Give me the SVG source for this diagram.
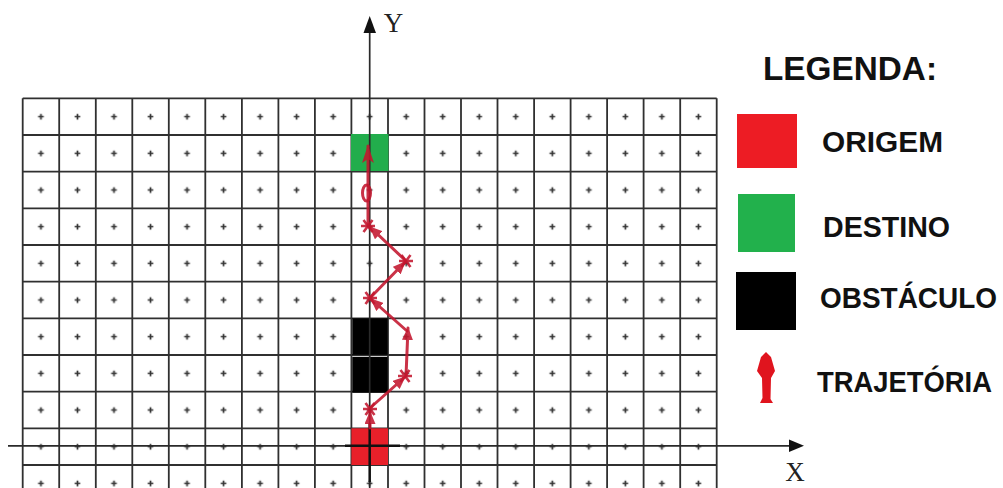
<svg xmlns="http://www.w3.org/2000/svg" width="1003" height="488" viewBox="0 0 1003 488">
<style>
.grid{stroke:#303030;stroke-width:1.8;fill:none}
.axis{stroke:#2a2a2a;stroke-width:1.7;fill:none}
.lbl{font-family:"Liberation Serif","Times New Roman",serif;font-size:27px;fill:#222}
.leg{font-family:"Liberation Sans",Arial,sans-serif;font-weight:bold;fill:#111}
.traj{stroke:#c3162e;stroke-width:3;fill:none;stroke-linecap:round;opacity:0.88}
.star{stroke:#c3162e;stroke-width:2.6;fill:none;opacity:0.88}
</style>
<defs>
<pattern id="plus" x="22.7" y="98.3" width="36.526" height="36.67" patternUnits="userSpaceOnUse">
<path d="M15.4 18.33h5.7M18.26 15.5v5.7" stroke="#333" stroke-width="1.7"/>
</pattern>
<marker id="ah" viewBox="0 0 13 11" refX="12" refY="5.5" markerWidth="13" markerHeight="11" markerUnits="userSpaceOnUse" orient="auto">
<path d="M0 0L13 5.5L0 11z" fill="#c3162e"/>
</marker>
<marker id="ahBig" viewBox="0 0 18 12" refX="17" refY="6" markerWidth="18" markerHeight="12" markerUnits="userSpaceOnUse" orient="auto">
<path d="M0 0L18 6L0 12L4 6z" fill="#c3162e"/>
</marker>
<g id="asterisk">
<path d="M-7 0H7M-4.5 -6L4.5 6M-4.5 6L4.5 -6"/>
</g>
</defs>
<rect width="1003" height="488" fill="#fff"/>

<g id="grid">
<rect x="22.7" y="98.3" width="694" height="390" fill="url(#plus)"/>
<path class="grid" d="M22.7 98.3V488M59.2 98.3V488M95.8 98.3V488M132.3 98.3V488M168.8 98.3V488M205.3 98.3V488M241.9 98.3V488M278.4 98.3V488M314.9 98.3V488M351.4 98.3V488M388 98.3V488M424.5 98.3V488M461 98.3V488M497.5 98.3V488M534.1 98.3V488M570.6 98.3V488M607.1 98.3V488M643.6 98.3V488M680.2 98.3V488M716.7 98.3V488M22.7 98.3H716.7M22.7 135H716.7M22.7 171.6H716.7M22.7 208.3H716.7M22.7 245H716.7M22.7 281.6H716.7M22.7 318.3H716.7M22.7 355H716.7M22.7 391.7H716.7M22.7 428.3H716.7M22.7 465H716.7"/>
</g>

<g id="origem">
<rect x="351.4" y="428.3" width="36.6" height="36.7" fill="#e8202a"/>
</g>
<g id="destino">
<rect x="351" y="134" width="37.5" height="37" fill="#22ad4c"/>
</g>
<g id="obstaculo">
<rect x="352.3" y="318.3" width="35.4" height="36.5" fill="#000"/>
<rect x="352.3" y="356.8" width="35.4" height="36" fill="#000"/>
</g>

<g id="axes">
<path class="axis" d="M8 445.8H792"/>
<path d="M789 439.5L804 445.8L789 452z" fill="#111"/>
<path class="axis" d="M369.7 488V30"/>
<path d="M363.5 33L369.7 16L376 33z" fill="#111"/>
<path d="M345 445.8H400M369.7 423V482" stroke="#111" stroke-width="2.4"/>
<text class="lbl" x="393.5" y="32" text-anchor="middle">Y</text>
<text class="lbl" x="795" y="481" text-anchor="middle" font-size="26">X</text>
</g>

<g id="trajetoria">
<line class="traj" x1="370" y1="428" x2="370" y2="412" marker-end="url(#ah)"/>
<line class="traj" x1="370" y1="408" x2="405" y2="377" marker-end="url(#ah)"/>
<line class="traj" x1="406" y1="376" x2="408" y2="328" marker-end="url(#ah)"/>
<line class="traj" x1="407" y1="331" x2="371" y2="299" marker-end="url(#ah)"/>
<line class="traj" x1="370" y1="298" x2="405" y2="262" marker-end="url(#ah)"/>
<line class="traj" x1="406" y1="261" x2="370" y2="227" marker-end="url(#ah)"/>
<line class="traj" x1="368" y1="226" x2="368" y2="146" marker-end="url(#ahBig)"/>
<ellipse class="traj" cx="366.5" cy="193" rx="4" ry="8" stroke-width="2"/>
<use href="#asterisk" class="star" x="370" y="409"/>
<use href="#asterisk" class="star" x="405" y="376"/>
<use href="#asterisk" class="star" x="370" y="298"/>
<use href="#asterisk" class="star" x="406" y="261"/>
<use href="#asterisk" class="star" x="368" y="226"/>
</g>

<g id="legenda">
<text class="leg" x="763" y="80" font-size="34" textLength="174" lengthAdjust="spacingAndGlyphs">LEGENDA:</text>
</g>
<g id="leg-origem">
<rect x="737" y="114" width="60" height="54" fill="#ed1c24"/>
<text class="leg" x="822" y="152" font-size="29" textLength="121" lengthAdjust="spacingAndGlyphs">ORIGEM</text>
</g>
<g id="leg-destino">
<rect x="738" y="194" width="57" height="58" fill="#22b14c"/>
<text class="leg" x="823" y="237" font-size="29" textLength="127" lengthAdjust="spacingAndGlyphs">DESTINO</text>
</g>
<g id="leg-obstaculo">
<rect x="736" y="272" width="60" height="58" fill="#000"/>
<text class="leg" x="820" y="308" font-size="29" textLength="177" lengthAdjust="spacingAndGlyphs">OBSTÁCULO</text>
</g>
<g id="leg-trajetoria">
<path d="M766 352L771 357L775 371L771 378L770.5 399L773 403L760 403L762.5 398L762 378L757 371L761 357z" fill="#e0141e"/>
<text class="leg" x="817" y="392" font-size="29" textLength="175" lengthAdjust="spacingAndGlyphs">TRAJETÓRIA</text>
</g>
</svg>
